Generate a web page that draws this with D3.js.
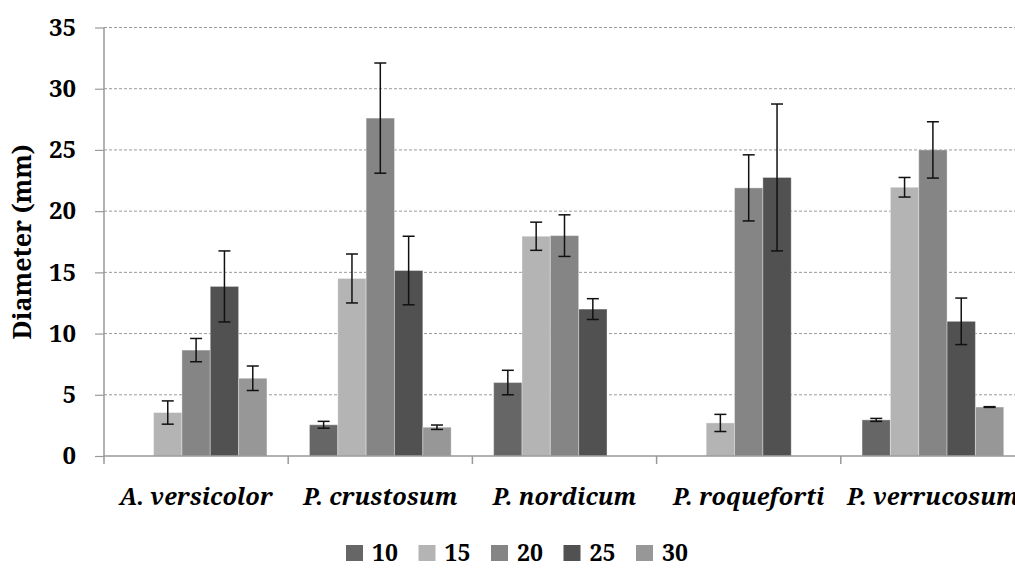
<!DOCTYPE html>
<html>
<head>
<meta charset="utf-8">
<script src="https://cdn.jsdelivr.net/npm/d3@7"></script>
<style>
  html, body { margin: 0; padding: 0; background: #fff; overflow: hidden; }
  svg { display: block; }
</style>
</head>
<body>
<div id="chart"></div>
<script>
// data
const species = ["A. versicolor", "P. crustosum", "P. nordicum", "P. roqueforti", "P. verrucosum"];
const temps = ["10", "15", "20", "25", "30"];
const means = [
  [0, 3.55, 8.65, 13.85, 6.35],
  [2.55, 14.5, 27.6, 15.15, 2.35],
  [6.0, 17.95, 18.0, 12.0, 0],
  [0, 2.7, 21.9, 22.75, 0],
  [2.95, 21.95, 25.0, 11.0, 4.0]
];
const errors = [
  [0, 0.95, 0.95, 2.9, 1.0],
  [0.28, 2.0, 4.5, 2.8, 0.18],
  [1.0, 1.15, 1.7, 0.85, 0],
  [0, 0.7, 2.7, 6.0, 0],
  [0.12, 0.8, 2.3, 1.9, 0.03]
];
const yTicks = [0, 5, 10, 15, 20, 25, 30, 35];
const colors = ["#666666", "#b4b4b4", "#858585", "#515151", "#979797"];

const width = 1015, height = 568;
const margin = { top: 27.5, right: -10, bottom: 112, left: 104 };
const font = "Noto Serif, Liberation Serif, serif";

const svg = d3.select("#chart").append("svg")
  .attr("width", width)
  .attr("height", height)
  .attr("font-family", font);

const x = d3.scaleBand().domain(species).range([margin.left, width - margin.right]);
const xInner = d3.scaleBand().domain(temps).range([0, x.bandwidth()])
  .paddingInner(0).paddingOuter(0.75);
const y = d3.scaleLinear().domain([0, 35]).range([height - margin.bottom, margin.top]);

// dashed gridlines
svg.append("g")
  .selectAll("line")
  .data(yTicks.filter(d => d > 0))
  .join("line")
  .attr("x1", margin.left)
  .attr("x2", width)
  .attr("y1", d => y(d))
  .attr("y2", d => y(d))
  .attr("stroke", "#9a9a9a")
  .attr("stroke-width", 1)
  .attr("stroke-dasharray", "3,2");

// y axis
const yAxis = d3.axisLeft(y).tickValues(yTicks).tickSize(9).tickPadding(19).tickSizeOuter(0);
const yG = svg.append("g")
  .attr("transform", `translate(${margin.left},0)`)
  .call(yAxis);
yG.attr("font-family", font);
yG.select(".domain").attr("stroke", "#999").attr("stroke-width", 1.5)
  .attr("d", `M0,${margin.top}V${y(0) + 8}`);
yG.selectAll(".tick line").attr("stroke", "#999").attr("stroke-width", 1.2);
yG.selectAll("text")
  .attr("font-weight", "bold")
  .attr("font-size", 24)
  .attr("fill", "#000");

// bars
const groups = svg.append("g")
  .selectAll("g")
  .data(species)
  .join("g")
  .attr("transform", d => `translate(${x(d)},0)`);

groups.selectAll("rect")
  .data((d, i) => means[i].map((v, j) => ({ t: temps[j], v, e: errors[i][j], j })).filter(d => d.v > 0))
  .join("rect")
  .attr("x", d => xInner(d.t))
  .attr("width", xInner.bandwidth())
  .attr("y", d => y(d.v))
  .attr("height", d => y(0) - y(d.v))
  .attr("fill", d => colors[d.j])
  .attr("stroke", "rgba(255,255,255,0.35)")
  .attr("stroke-width", 1);

// error bars
const errG = groups.selectAll("g.err")
  .data((d, i) => means[i].map((v, j) => ({ t: temps[j], v, e: errors[i][j] })).filter(d => d.v > 0))
  .join("g")
  .attr("class", "err")
  .attr("transform", d => `translate(${xInner(d.t) + xInner.bandwidth() / 2},0)`);

errG.append("line")
  .attr("y1", d => y(d.v + d.e))
  .attr("y2", d => y(d.v - d.e))
  .attr("stroke", "#111")
  .attr("stroke-width", 1.5);
errG.selectAll("line.cap")
  .data(d => [d.v + d.e, d.v - d.e])
  .join("line")
  .attr("class", "cap")
  .attr("x1", -6)
  .attr("x2", 6)
  .attr("y1", d => y(d))
  .attr("y2", d => y(d))
  .attr("stroke", "#111")
  .attr("stroke-width", 1.5);

// x axis line and category ticks
svg.append("line")
  .attr("x1", margin.left)
  .attr("x2", width)
  .attr("y1", y(0))
  .attr("y2", y(0))
  .attr("stroke", "#999")
  .attr("stroke-width", 1.5);
svg.append("g")
  .selectAll("line")
  .data(species.slice(1).map(s => x(s)))
  .join("line")
  .attr("x1", d => d)
  .attr("x2", d => d)
  .attr("y1", y(0))
  .attr("y2", y(0) + 8)
  .attr("stroke", "#999")
  .attr("stroke-width", 1.5);

svg.append("g")
  .selectAll("text")
  .data(species)
  .join("text")
  .attr("x", d => x(d) + x.bandwidth() / 2)
  .attr("y", 505)
  .attr("text-anchor", "middle")
  .attr("font-weight", "bold")
  .attr("font-style", "italic")
  .attr("font-size", 23.5)
  .text(d => d);

// y axis title
svg.append("text")
  .attr("transform", `translate(31,${(margin.top + y(0)) / 2}) rotate(-90)`)
  .attr("text-anchor", "middle")
  .attr("font-weight", "bold")
  .attr("font-size", 25)
  .text("Diameter (mm)");

// legend
const legend = svg.append("g")
  .selectAll("g")
  .data(temps)
  .join("g")
  .attr("transform", (d, i) => `translate(${346 + i * 72.5},545)`);
legend.append("rect")
  .attr("width", 17)
  .attr("height", 16)
  .attr("fill", (d, i) => colors[i]);
legend.append("text")
  .attr("x", 26)
  .attr("y", 16)
  .attr("font-weight", "bold")
  .attr("font-size", 23)
  .text(d => d);
</script>
</body>
</html>
